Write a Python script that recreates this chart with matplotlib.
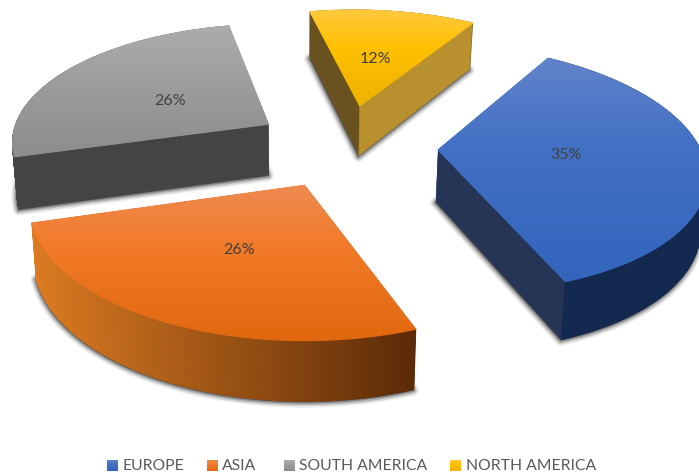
import numpy as np
import matplotlib
matplotlib.use("Agg")
import matplotlib.pyplot as plt
from matplotlib.collections import LineCollection
from matplotlib.colors import LinearSegmentedColormap, to_rgb
from matplotlib.patches import Polygon

# Share of each continent, clockwise from the first slice
categories = ["EUROPE", "ASIA", "SOUTH AMERICA", "NORTH AMERICA"]
shares = [35, 26, 26, 12]

# Ground-plane homography of the pie, rotation of the first slice and explosion
CAMERA = (258.3936, 48.7285, 345.9611, 1.3878, -98.9359, 145.58074, -0.00448, 0.14446)
FIRST_ANGLE = 31.18956
EXPLODE = 0.35405

# Per-slice styling: top gradient stops, the two radial walls, outer wall gradient
STYLES = [
    dict(top=("#6283ca", "#4270c4", "#3365bd"), start_wall="#263556", end_wall="#263556",
         outer=("#14294f", "#14294f")),
    dict(top=("#ee8b52", "#f27a28", "#e2680f"), start_wall="#5c2b07", end_wall="#5c2b07",
         outer=("#5c2b07", "#dc7b22")),
    dict(top=("#adadad", "#9e9e9e", "#8c8c8c"), start_wall="#444444", end_wall="#444444",
         outer=("#444444", "#444444")),
    dict(top=("#ffc93f", "#ffc000", "#eeb200"), start_wall="#6a5220", end_wall="#b8902d",
         outer=("#6a5220", "#6a5220")),
]
LABEL_POS = [(566, 155), (239, 250), (170, 101), (375, 59)]
LEGEND_BOX = [107, 207, 284, 450]
LEGEND_TXT = [123, 222, 299, 466]
DRAW_ORDER = [2, 3, 0, 1]

plt.rcParams["font.family"] = ["Lato", "DejaVu Sans"]


def project(u, v):
    p = CAMERA
    d = p[6] * u + p[7] * v + 1
    return (p[0] * u + p[1] * v + p[2]) / d, (p[3] * u + p[4] * v + p[5]) / d


def extrude(x, y):
    """Lower rim of the disc for a point on its upper surface."""
    return x + (300 - x) * 0.016, y + 46 + 0.046 * (y - 22)


def ramp(stops):
    return LinearSegmentedColormap.from_list("ramp", [(0, stops[0]), (0.4, stops[1]), (1, stops[2])])


fig = plt.figure(figsize=(6.99, 4.75), dpi=100)
ax = fig.add_axes([0, 0, 1, 1])
ax.axis("off")

sweeps = np.array(shares, float) / sum(shares) * 360
starts = FIRST_ANGLE + np.r_[0, np.cumsum(sweeps)[:-1]]

for i in DRAW_ORDER:
    st = STYLES[i]
    t1, t2 = np.radians(starts[i]), np.radians(starts[i] + sweeps[i])
    mid = (t1 + t2) / 2
    ou, ov = EXPLODE * np.sin(mid), EXPLODE * np.cos(mid)
    tt = np.linspace(t1, t2, 160)
    ax_x, ax_y = project(ou + np.sin(tt), ov + np.cos(tt))
    cx, cy = project(ou, ov)
    bx, by = extrude(ax_x, ax_y)
    bcx, bcy = extrude(cx, cy)
    layer = DRAW_ORDER.index(i) * 4

    # Soft contact shadow under the lower rim
    base = np.c_[np.r_[bcx, bx] - 0.5, np.r_[bcy, by] + 1]
    for lw, a in ((8, 0.07), (6, 0.12), (4, 0.2), (2, 0.3)):
        ax.add_patch(Polygon(base, closed=True, fc="#222222", ec="#222222", lw=lw,
                             alpha=a, joinstyle="round", zorder=1 + layer))

    # The outer wall sits behind the radial walls on slices at the far side
    far_side = np.cos(mid) > 0
    wall_z = 3 + layer
    outer_z = 2 + layer if far_side else 4 + layer

    for ex, ey, col in ((ax_x[0], ax_y[0], st["start_wall"]), (ax_x[-1], ax_y[-1], st["end_wall"])):
        ebx, eby = extrude(ex, ey)
        ax.add_patch(Polygon([(cx, cy), (ex, ey), (ebx, eby), (bcx, bcy)], closed=True,
                             fc=col, ec=col, lw=0.3, zorder=wall_z))

    # Outer wall as a strip shaded from left to right
    c0, c1 = np.array(to_rgb(st["outer"][0])), np.array(to_rgb(st["outer"][1]))
    for k in range(len(tt) - 1):
        f = np.clip((415 - ax_x[k]) / 385, 0, 1)
        col = c0 + (c1 - c0) * f
        ax.add_patch(Polygon([(ax_x[k], ax_y[k]), (ax_x[k + 1], ax_y[k + 1]),
                              (bx[k + 1], by[k + 1]), (bx[k], by[k])], closed=True,
                             fc=col, ec=col, lw=0.9, zorder=outer_z))

    # Upper surface with a vertical gradient and a matching anti-aliased rim
    px, py = np.r_[cx, ax_x, cx], np.r_[cy, ax_y, cy]
    # densify the straight edges so the rim follows the gradient along them
    s = np.linspace(0, 1, 60)
    px = np.r_[cx + (ax_x[0] - cx) * s, ax_x, ax_x[-1] + (cx - ax_x[-1]) * s]
    py = np.r_[cy + (ax_y[0] - cy) * s, ax_y, ax_y[-1] + (cy - ax_y[-1]) * s]
    top_cmap = ramp(st["top"])
    grad = np.linspace(0, 1, 256)[:, None]
    y0, y1 = py.min() - 1, py.max() + 1
    im = ax.imshow(grad, cmap=top_cmap, aspect="auto", interpolation="bilinear",
                   extent=(px.min() - 1, px.max() + 1, y1, y0), zorder=5 + layer)
    clip = Polygon(np.c_[px, py], closed=True, transform=ax.transData, fc="none", ec="none")
    ax.add_patch(clip)
    im.set_clip_path(clip)
    segs = np.stack([np.c_[px[:-1], py[:-1]], np.c_[px[1:], py[1:]]], axis=1)
    ax.add_collection(LineCollection(segs, colors=top_cmap((py[:-1] - y0) / (y1 - y0)),
                                     linewidths=0.9, zorder=5.5 + layer, capstyle="round"))

    lx, ly = LABEL_POS[i]
    ax.text(lx, ly, f"{shares[i]}%", ha="center", va="center", fontsize=11.5, color="#404040", zorder=40)

# Legend row
for i, name in enumerate(categories):
    grad = np.linspace(0, 1, 32)[:, None]
    x0 = LEGEND_BOX[i]
    ax.imshow(grad, cmap=ramp(STYLES[i]["top"]), aspect="auto",
              extent=(x0, x0 + 10.5, 471, 460.5), zorder=40)
    ax.text(LEGEND_TXT[i], 466.5, name, ha="left", va="center", fontsize=11.3, color="#595959", zorder=40)

ax.set_xlim(0, 699)
ax.set_ylim(475, 0)
fig.savefig("out.png", dpi=100)
